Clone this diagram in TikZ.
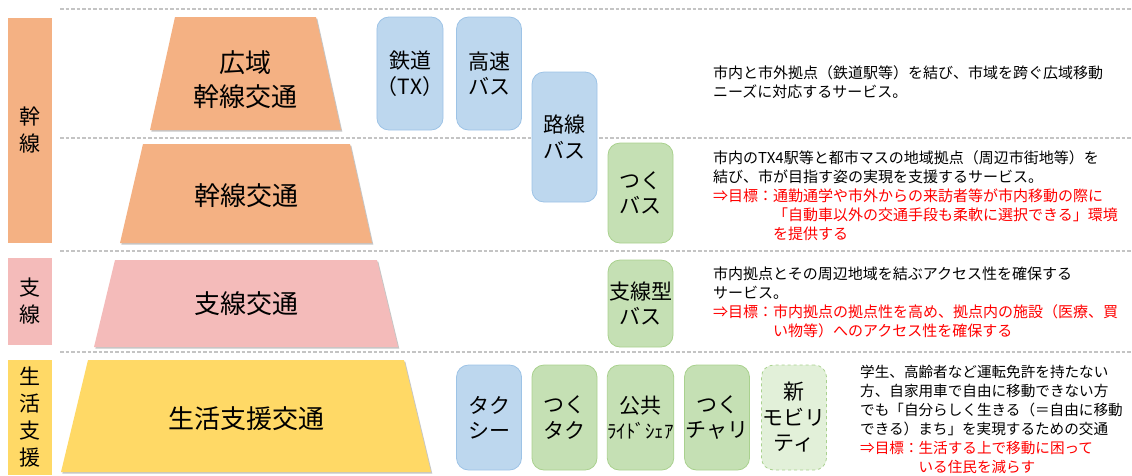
\documentclass[tikz,border=0pt]{standalone}
\usepackage{fontspec}
\setmainfont{Noto Sans CJK JP}
\usetikzlibrary{shadows}
\definecolor{kan}{HTML}{F4B183}
\definecolor{shi}{HTML}{F4BBBA}
\definecolor{sei}{HTML}{FFD966}
\definecolor{bluef}{HTML}{BDD7EE}
\definecolor{blued}{HTML}{9DC3E6}
\definecolor{greenf}{HTML}{C5E0B4}
\definecolor{greend}{HTML}{A9D18E}
\definecolor{lgreenf}{HTML}{E2F0D9}
\definecolor{sepc}{HTML}{C4C4C4}
\definecolor{redt}{HTML}{FF0000}
\begin{document}
\begin{tikzpicture}[x=1pt,y=-1pt,
  sepline/.style={draw=sepc, line width=1.3pt, dash pattern=on 3.5pt off 2pt},
  trap/.style={drop shadow={shadow xshift=1.3pt,shadow yshift=-1.6pt,opacity=0.45}},
  sidebar/.style={inner sep=0pt, minimum width=44pt, align=center, font=\fontsize{21}{27}\selectfont},
  traptext/.style={inner sep=0pt, align=center, font=\fontsize{26}{34}\selectfont},
  modebox/.style={rounded corners=12pt, line width=0.8pt, minimum width=65pt, inner sep=0pt, align=center, font=\fontsize{21}{25.5}\selectfont},
  bluebox/.style={modebox, draw=blued, fill=bluef},
  greenbox/.style={modebox, draw=greend, fill=greenf},
  newbox/.style={modebox, draw=greend, fill=lgreenf, dashed},
  desc/.style={inner sep=0pt, anchor=north west, align=left, font=\fontsize{15}{19}\selectfont}
]
\useasboundingbox (0,0) rectangle (1132,475);

% separators
\draw[sepline] (60,9) -- (1132,9);
\draw[sepline] (60,138) -- (1132,138);
\draw[sepline] (60,251) -- (1132,251);
\draw[sepline] (60,352) -- (1132,352);

% side bars
\node[sidebar, fill=kan, minimum height=225pt] (skan) at (30,130) {幹\\線};
\node[sidebar, fill=shi, minimum height=87pt] (sshi) at (30,301.5) {支\\線};
\node[sidebar, fill=sei, minimum height=115pt] (ssei) at (30,417.5) {生\\活\\支\\援};

% trapezoids
\fill[kan, trap] (175,17) -- (316,17) -- (341,130) -- (150,130) -- cycle;
\fill[kan, trap] (143,144) -- (350,144) -- (372,243) -- (120,243) -- cycle;
\fill[shi, trap] (115,260) -- (377,260) -- (398,347) -- (94,347) -- cycle;
\fill[sei, trap] (88,360) -- (404,360) -- (431,472) -- (61,472) -- cycle;
\node[traptext] (t1) at (245.5,80) {広域\\幹線交通};
\node[traptext] (t2) at (246,196) {幹線交通};
\node[traptext] (t3) at (246,304) {支線交通};
\node[traptext] (t4) at (246,419) {生活支援交通};

% mode boxes
\node[bluebox, minimum height=113pt] (tetsu) at (410,73.5) {鉄道\\（TX）};
\node[bluebox, minimum height=113pt] (kosoku) at (489,73.5) {高速\\バス};
\node[bluebox, minimum height=130pt] (rosen) at (564.5,137) {路線\\バス};
\node[greenbox, minimum height=100pt] (tsukubus) at (640.5,193) {つく\\バス};
\node[greenbox, minimum height=87pt] (shisen) at (640.5,303.5) {支線型\\バス};
\node[bluebox, minimum height=105pt] (taxi) at (489,417.5) {タク\\シー};
\node[greenbox, minimum height=105pt] (tsukutaku) at (564.5,417.5) {つく\\タク};
\node[greenbox, minimum height=105pt] (ride) at (640.5,417.5) {公共\\{\fontsize{19}{25.5}\selectfont ﾗｲﾄﾞｼｪｱ}};
\node[greenbox, minimum height=105pt] (chari) at (717,417.5) {つく\\チャリ};
\node[newbox, minimum height=105pt] (newmob) at (794,417.5) {新\\モビリ\\ティ};

% descriptions
\node[desc] (d1) at (713,65) {市内と市外拠点（鉄道駅等）を結び、市域を跨ぐ広域移動\\ニーズに対応するサービス。};
\node[desc] (d2) at (713,150) {市内のTX4駅等と都市マスの地域拠点（周辺市街地等）を\\結び、市が目指す姿の実現を支援するサービス。\\
\textcolor{redt}{⇒目標：通勤通学や市外からの来訪者等が市内移動の際に}\\
\textcolor{redt}{\phantom{⇒目標：}「自動車以外の交通手段も柔軟に選択できる」環境}\\
\textcolor{redt}{\phantom{⇒目標：}を提供する}};
\node[desc] (d3) at (713,267) {市内拠点とその周辺地域を結ぶアクセス性を確保する\\サービス。\\
\textcolor{redt}{⇒目標：市内拠点の拠点性を高め、拠点内の施設（医療、買}\\
\textcolor{redt}{\phantom{⇒目標：}い物等）へのアクセス性を確保する}};
\node[desc, font=\fontsize{14.6}{19}\selectfont] (d4) at (860,365) {学生、高齢者など運転免許を持たない\\方、自家用車で自由に移動できない方\\でも「自分らしく生きる（＝自由に移動\\できる）まち」を実現するための交通\\
\textcolor{redt}{⇒目標：生活する上で移動に困って}\\
\textcolor{redt}{\phantom{⇒目標：}いる住民を減らす}};
\end{tikzpicture}
\end{document}
